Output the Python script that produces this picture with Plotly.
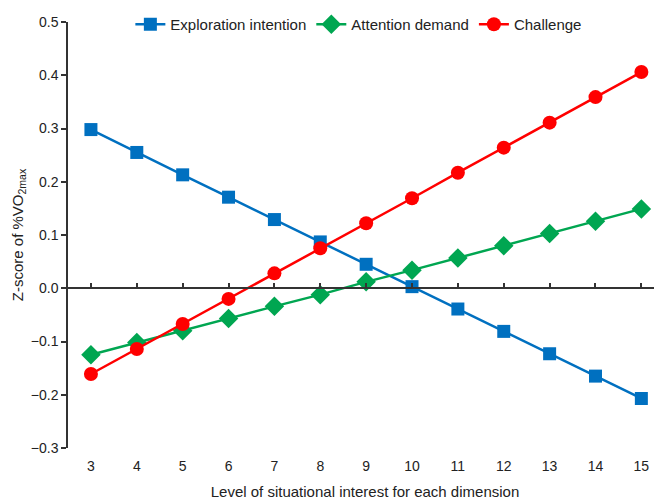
import plotly.graph_objects as go

levels = [3, 4, 5, 6, 7, 8, 9, 10, 11, 12, 13, 14, 15]
exploration = [0.298, 0.255, 0.213, 0.171, 0.129, 0.087, 0.045, 0.003, -0.039, -0.081, -0.123, -0.165, -0.207]
attention = [-0.125, -0.102, -0.080, -0.057, -0.034, -0.012, 0.012, 0.034, 0.057, 0.080, 0.103, 0.126, 0.149]
challenge = [-0.161, -0.114, -0.067, -0.020, 0.028, 0.075, 0.122, 0.169, 0.217, 0.264, 0.311, 0.359, 0.406]
y_ticks = [-0.3, -0.2, -0.1, 0.0, 0.1, 0.2, 0.3, 0.4, 0.5]

fig = go.Figure()
fig.add_trace(go.Scatter(x=levels, y=exploration, name="Exploration intention", mode="lines+markers",
                         line=dict(color="#0070C0", width=2.5),
                         marker=dict(symbol="square", size=13, color="#0070C0")))
fig.add_trace(go.Scatter(x=levels, y=attention, name="Attention demand", mode="lines+markers",
                         line=dict(color="#00A651", width=2.5),
                         marker=dict(symbol="diamond", size=15, color="#00A651")))
fig.add_trace(go.Scatter(x=levels, y=challenge, name="Challenge", mode="lines+markers",
                         line=dict(color="#FF0000", width=2.5),
                         marker=dict(symbol="circle", size=14, color="#FF0000")))
# invisible helper trace so the zero-line axis (x2) is rendered
fig.add_trace(go.Scatter(x=levels, y=[0] * len(levels), xaxis="x2", mode="markers",
                         marker=dict(opacity=0, size=1), showlegend=False, hoverinfo="skip"))

y_min, y_max = -0.3, 0.5
zero_pos = (0 - y_min) / (y_max - y_min)

fig.update_layout(
    width=654, height=492,
    margin=dict(l=60, r=0, t=11, b=52),
    paper_bgcolor="white", plot_bgcolor="white",
    font=dict(family="Liberation Sans, Arial, sans-serif", size=14, color="#222222"),
    showlegend=True,
    legend=dict(orientation="h", x=0.105, y=0.995, xanchor="left", yanchor="middle",
                font=dict(size=15), bgcolor="rgba(0,0,0,0)", tracegroupgap=0),
    xaxis=dict(range=[2.5, 15.45], tickmode="array", tickvals=levels,
               ticktext=[str(v) for v in levels], showline=False, showgrid=False,
               zeroline=False, ticks="", ticklabelstandoff=8, automargin=False,
               title=dict(text="Level of situational interest for each dimension",
                          font=dict(size=15), standoff=14)),
    xaxis2=dict(range=[2.5, 15.45], overlaying="x", anchor="free", position=zero_pos,
                side="bottom", showline=True, linecolor="#333333", linewidth=1.5,
                tickmode="array", tickvals=levels, ticks="inside", ticklen=5,
                tickcolor="#333333", tickwidth=1.5, showticklabels=False, showgrid=False,
                zeroline=False, automargin=False),
    yaxis=dict(range=[y_min, y_max], tickmode="array", tickvals=y_ticks,
               ticktext=[("−" if v < 0 else "") + f"{abs(v):.1f}" for v in y_ticks],
               showline=True, linecolor="#333333", linewidth=1.5, ticks="outside",
               ticklen=5, tickcolor="#333333", tickwidth=1.5, showgrid=False, zeroline=False,
               automargin=False,
               title=dict(text="Z-score of %VO<sub>2max</sub>", font=dict(size=15), standoff=4)),
)
fig.write_html("out.html")
